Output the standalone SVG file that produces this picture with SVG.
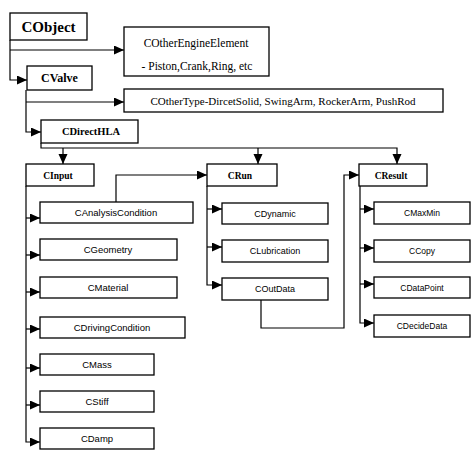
<svg xmlns="http://www.w3.org/2000/svg" width="474" height="451" viewBox="0 0 474 451">
<style>
.box{fill:#fff;stroke:#000;stroke-width:1.3}
.ln{fill:none;stroke:#000;stroke-width:1.2}
.t{font-family:"Liberation Serif",serif;fill:#000;text-anchor:middle}
.b{font-weight:bold}
.s{font-family:"Liberation Sans",sans-serif;fill:#000;text-anchor:middle}
</style>
<defs>
<marker id="ar" markerUnits="userSpaceOnUse" markerWidth="12" markerHeight="10" refX="10" refY="4.5" orient="auto">
<path d="M0,0 L10,4.5 L0,9 Z" fill="#000"/>
</marker>
</defs>
<rect width="474" height="451" fill="#fff"/>
<g id="connectors">
<path class="ln" d="M10,40 V80 H27" marker-end="url(#ar)"/>
<path class="ln" d="M10,50 H124" marker-end="url(#ar)"/>
<path class="ln" d="M26,90 V132 H41" marker-end="url(#ar)"/>
<path class="ln" d="M26,102 H124" marker-end="url(#ar)"/>
<path class="ln" d="M41,143 V148 H397 V164" marker-end="url(#ar)"/>
<path class="ln" d="M63,148 V164" marker-end="url(#ar)"/>
<path class="ln" d="M258,148 V164" marker-end="url(#ar)"/>
<path class="ln" d="M26,186 V442 H40" marker-end="url(#ar)"/>
<path class="ln" d="M26,218 H40" marker-end="url(#ar)"/>
<path class="ln" d="M26,255 H40" marker-end="url(#ar)"/>
<path class="ln" d="M26,292 H40" marker-end="url(#ar)"/>
<path class="ln" d="M26,329 H40" marker-end="url(#ar)"/>
<path class="ln" d="M26,368 H40" marker-end="url(#ar)"/>
<path class="ln" d="M26,405 H40" marker-end="url(#ar)"/>
<path class="ln" d="M116,202 V175 H207" marker-end="url(#ar)"/>
<path class="ln" d="M207,186 V285 H222" marker-end="url(#ar)"/>
<path class="ln" d="M207,209 H222" marker-end="url(#ar)"/>
<path class="ln" d="M207,247 H222" marker-end="url(#ar)"/>
<path class="ln" d="M261,300 V328 H344 V175 H359" marker-end="url(#ar)"/>
<path class="ln" d="M360,186 V323 H374" marker-end="url(#ar)"/>
<path class="ln" d="M360,209 H374" marker-end="url(#ar)"/>
<path class="ln" d="M360,248 H374" marker-end="url(#ar)"/>
<path class="ln" d="M360,284 H374" marker-end="url(#ar)"/>
</g>
<g id="CObject"><rect class="box" x="10" y="13" width="77" height="27"/><text class="t b" x="48.5" y="32" font-size="15">CObject</text></g>
<g id="COtherEngineElement"><rect class="box" x="124" y="27" width="145" height="49"/><text class="t" x="196" y="47" font-size="11.5">COtherEngineElement</text><text class="t" x="197" y="70" font-size="11.5">- Piston,Crank,Ring, etc</text></g>
<g id="CValve"><rect class="box" x="27" y="66" width="65" height="24"/><text class="t b" x="59.5" y="82" font-size="12">CValve</text></g>
<g id="COtherType"><rect class="box" x="124" y="89" width="319" height="23"/><text class="t" x="283" y="105" font-size="11">COtherType-DircetSolid, SwingArm, RockerArm, PushRod</text></g>
<g id="CDirectHLA"><rect class="box" x="41" y="120" width="97" height="23"/><text class="t b" x="91" y="135" font-size="10.5">CDirectHLA</text></g>
<g id="CInput"><rect class="box" x="26" y="164" width="68" height="22"/><text class="t b" x="58" y="178.5" font-size="9.5">CInput</text></g>
<g id="CRun"><rect class="box" x="207" y="164" width="70" height="22"/><text class="t b" x="240" y="178.5" font-size="9.5">CRun</text></g>
<g id="CResult"><rect class="box" x="359" y="164" width="68" height="22"/><text class="t b" x="391" y="178.5" font-size="9.5">CResult</text></g>
<g id="CAnalysisCondition"><rect class="box" x="40" y="202" width="153" height="21"/><text class="s" x="116" y="216" font-size="9.5">CAnalysisCondition</text></g>
<g id="CGeometry"><rect class="box" x="40" y="239" width="137" height="21"/><text class="s" x="108" y="253" font-size="9.5">CGeometry</text></g>
<g id="CMaterial"><rect class="box" x="40" y="277" width="137" height="21"/><text class="s" x="108" y="291" font-size="9.5">CMaterial</text></g>
<g id="CDrivingCondition"><rect class="box" x="40" y="317" width="145" height="21"/><text class="s" x="112" y="331" font-size="9.5">CDrivingCondition</text></g>
<g id="CMass"><rect class="box" x="40" y="354" width="114" height="21"/><text class="s" x="97" y="368" font-size="9.5">CMass</text></g>
<g id="CStiff"><rect class="box" x="40" y="391" width="114" height="21"/><text class="s" x="97" y="405" font-size="9.5">CStiff</text></g>
<g id="CDamp"><rect class="box" x="40" y="428" width="114" height="21"/><text class="s" x="97" y="442" font-size="9.5">CDamp</text></g>
<g id="CDynamic"><rect class="box" x="222" y="203" width="106" height="21"/><text class="s" x="275" y="217" font-size="9">CDynamic</text></g>
<g id="CLubrication"><rect class="box" x="222" y="240" width="106" height="22"/><text class="s" x="275" y="254" font-size="9">CLubrication</text></g>
<g id="COutData"><rect class="box" x="222" y="278" width="106" height="22"/><text class="s" x="275" y="292" font-size="9">COutData</text></g>
<g id="CMaxMin"><rect class="box" x="374" y="202" width="96" height="22"/><text class="s" x="422" y="216" font-size="8.5">CMaxMin</text></g>
<g id="CCopy"><rect class="box" x="374" y="240" width="96" height="22"/><text class="s" x="422" y="254" font-size="8.5">CCopy</text></g>
<g id="CDataPoint"><rect class="box" x="374" y="277" width="96" height="21"/><text class="s" x="422" y="291" font-size="8.5">CDataPoint</text></g>
<g id="CDecideData"><rect class="box" x="374" y="315" width="96" height="22"/><text class="s" x="422" y="329" font-size="8.5">CDecideData</text></g>
</svg>
